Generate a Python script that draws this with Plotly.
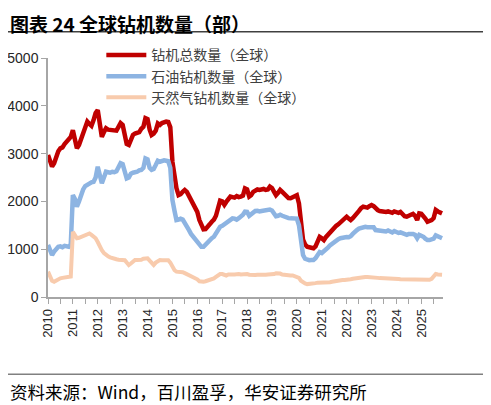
import pandas as pd
import plotly.graph_objects as go

# 月度数据 2010-01 ~ 2025-11
months = pd.date_range("2010-01-01", "2025-11-01", freq="MS")

total_rigs = [
    2970, 2830, 2730, 2800, 2950, 3050, 3110, 3130, 3200, 3250, 3280, 3350,  # 2010
    3490, 3300, 3110, 3180, 3300, 3450, 3600, 3670, 3620, 3580, 3700, 3850,  # 2011
    3910, 3600, 3350, 3450, 3530, 3500, 3490, 3480, 3470, 3480, 3560, 3640,  # 2012
    3600, 3400, 3200, 3180, 3300, 3390, 3420, 3440, 3450, 3520, 3560, 3740,  # 2013
    3720, 3500, 3390, 3420, 3480, 3630, 3600, 3640, 3660, 3670, 3660, 3550,  # 2014
    2830, 2450, 2280, 2130, 2150, 2200, 2240, 2200, 2120, 2060, 1980, 1890,  # 2015
    1780, 1610, 1480, 1415, 1420, 1460, 1520, 1575, 1620, 1700, 1850, 2015,  # 2016
    2000, 1930, 1990, 2050, 2100, 2090, 2080, 2110, 2090, 2100, 2120, 2270,  # 2017
    2250, 2100, 2130, 2200, 2240, 2250, 2240, 2250, 2260, 2240, 2250, 2310,  # 2018
    2280, 2200, 2130, 2180, 2240, 2200, 2160, 2120, 2070, 2065, 2090, 2100,  # 2019
    2130, 1960, 1600, 1200, 1100, 1050, 1040, 1040, 1020, 1060, 1150, 1260,  # 2020
    1230, 1190, 1250, 1300, 1350, 1400, 1460, 1490, 1520, 1560, 1610, 1650,  # 2021
    1680, 1640, 1610, 1650, 1690, 1740, 1800, 1860, 1890, 1880, 1870, 1900,  # 2022
    1925, 1900, 1850, 1820, 1800, 1790, 1785, 1780, 1790, 1770, 1760, 1790,  # 2023
    1780, 1760, 1780, 1720, 1690, 1680, 1710, 1720, 1740, 1700, 1610, 1750,  # 2024
    1740, 1700, 1640, 1575, 1590, 1610, 1650, 1820, 1790, 1760, 1750,        # 2025
]

oil_rigs = [
    1090, 950, 880, 950, 1020, 1050, 1060, 1040, 1070, 1060, 1050, 1100,
    2130, 2050, 1890, 2000, 2170, 2250, 2320, 2350, 2380, 2400, 2410, 2500,
    2725, 2500, 2380, 2500, 2620, 2610, 2600, 2620, 2610, 2630, 2700, 2800,
    2780, 2600, 2480, 2500, 2580, 2600, 2600, 2620, 2650, 2660, 2700, 2900,
    2880, 2700, 2660, 2680, 2760, 2850, 2830, 2850, 2860, 2850, 2840, 2700,
    2030, 1800, 1610, 1620, 1640, 1620, 1560, 1470, 1400, 1320, 1260, 1230,
    1180, 1100, 1050, 1050, 1100, 1160, 1180, 1230, 1260, 1330, 1400, 1470,
    1490, 1520, 1570, 1600, 1620, 1645, 1640, 1620, 1650, 1680, 1720, 1785,
    1780, 1700, 1730, 1780, 1800, 1805, 1790, 1800, 1810, 1800, 1820, 1830,
    1810, 1740, 1690, 1700, 1720, 1700, 1680, 1660, 1650, 1645, 1640, 1645,
    1640, 1500, 1100, 880, 800, 775, 770, 775, 775, 810, 860, 940,
    920, 950, 990, 1030, 1080, 1120, 1160, 1190, 1210, 1230, 1240, 1260,
    1255, 1250, 1270, 1320, 1370, 1400, 1430, 1450, 1460, 1470, 1460, 1460,
    1480, 1460, 1400, 1390, 1380, 1390, 1380, 1370, 1390, 1360, 1350, 1380,
    1360, 1340, 1350, 1330, 1320, 1300, 1320, 1330, 1320, 1300, 1230, 1300,
    1290, 1260, 1220, 1190, 1190, 1200, 1220, 1290, 1280, 1250, 1230,
]

gas_rigs = [
    530, 420, 340, 320, 350, 380, 390, 400, 410, 420, 425, 430,
    1365, 1300, 1230, 1240, 1260, 1280, 1300, 1320, 1330, 1300, 1260, 1230,
    1150, 1050, 980, 920, 880, 850, 830, 810, 800, 790, 780, 775,
    780, 770, 720, 670, 700, 740, 775, 775, 770, 780, 800, 810,
    810, 760, 700, 670, 720, 760, 775, 770, 775, 780, 770, 720,
    635, 560, 530, 530, 530, 520, 500, 480, 460, 440, 420, 390,
    370, 330, 320, 320, 330, 340, 350, 370, 390, 420, 450, 480,
    480, 460, 450, 470, 480, 470, 470, 480, 480, 470, 480, 480,
    480, 465, 460, 460, 460, 465, 460, 460, 460, 465, 470, 470,
    470, 480, 495, 500, 490, 470, 460, 450, 450, 450, 450, 440,
    430, 400, 340, 300, 285, 270, 270, 275, 280, 290, 300, 300,
    300, 295, 300, 305, 310, 320, 330, 340, 345, 350, 355, 355,
    355, 360, 370, 380, 390, 400, 410, 415, 420, 420, 420, 420,
    420, 415, 410, 400, 395, 395, 390, 390, 385, 380, 380, 375,
    375, 375, 370, 370, 370, 370, 370, 370, 365, 370, 370, 365,
    360, 355, 355, 350, 360, 380, 430, 480, 470, 465, 465,
]

series = [
    ("钻机总数量（全球）", total_rigs, "#C00000", 4.5),
    ("石油钻机数量（全球）", oil_rigs, "#8DB4E2", 4.5),
    ("天然气钻机数量（全球）", gas_rigs, "#F8CBAD", 4),
]

fig = go.Figure()
for name, vals, color, w in series:
    fig.add_trace(go.Scatter(x=months, y=vals, name=name, mode="lines",
                             line=dict(color=color, width=w)))

axis_col = "#A6A6A6"
# 页面 body 自带 8px 边距，整体尺寸相应减小
fig.update_layout(
    width=483, height=397,
    margin=dict(l=40, r=48, t=50, b=108),
    plot_bgcolor="white", paper_bgcolor="white",
    font=dict(family="Liberation Sans, Arial", size=14, color="#262626"),
    showlegend=True,
    legend=dict(x=0.135, y=1.078, xanchor="left", yanchor="top",
                bgcolor="rgba(0,0,0,0)",
                font=dict(family="Noto Sans CJK SC", size=14, color="#404040"),
                itemwidth=40),
    xaxis=dict(type="date", range=["2010-01-01", "2025-11-15"], automargin=False,
               dtick="M12", tick0="2010-01-01", tickformat="%Y",
               tickangle=-90, showgrid=False, zeroline=False,
               showline=True, linecolor=axis_col, linewidth=1.5,
               ticks="outside", ticklen=5, tickcolor=axis_col,
               tickfont=dict(size=13),
               minor=dict(dtick="M6", tick0="2010-01-01", ticks="outside",
                          ticklen=5, tickcolor=axis_col, showgrid=False)),
    yaxis=dict(range=[0, 5000], dtick=1000, automargin=False,
               showgrid=False, zeroline=False,
               showline=True, linecolor=axis_col, linewidth=1.5,
               ticks="outside", ticklen=5, tickcolor=axis_col),
)

# 标题与来源
fig.add_annotation(text="<b>图表 24 全球钻机数量（部）</b>", xref="paper", yref="paper",
                   x=-0.1013, y=1.209, xanchor="left", yanchor="top", showarrow=False,
                   font=dict(family="Noto Sans CJK SC", size=19, color="#000000"))
fig.add_annotation(text="资料来源：Wind，百川盈孚，华安证券研究所", xref="paper", yref="paper",
                   x=-0.1013, y=-0.395, xanchor="left", yanchor="middle", showarrow=False,
                   font=dict(family="Noto Sans CJK SC", size=17.5, color="#000000"))
fig.add_shape(type="line", xref="paper", yref="paper", x0=-0.1013, x1=1.109,
              y0=1.11, y1=1.11, line=dict(color="#404040", width=1.5))
fig.add_shape(type="line", xref="paper", yref="paper", x0=-0.1013, x1=1.109,
              y0=-0.3234, y1=-0.3234, line=dict(color="#808080", width=1.5))

fig.write_html("out.html")
